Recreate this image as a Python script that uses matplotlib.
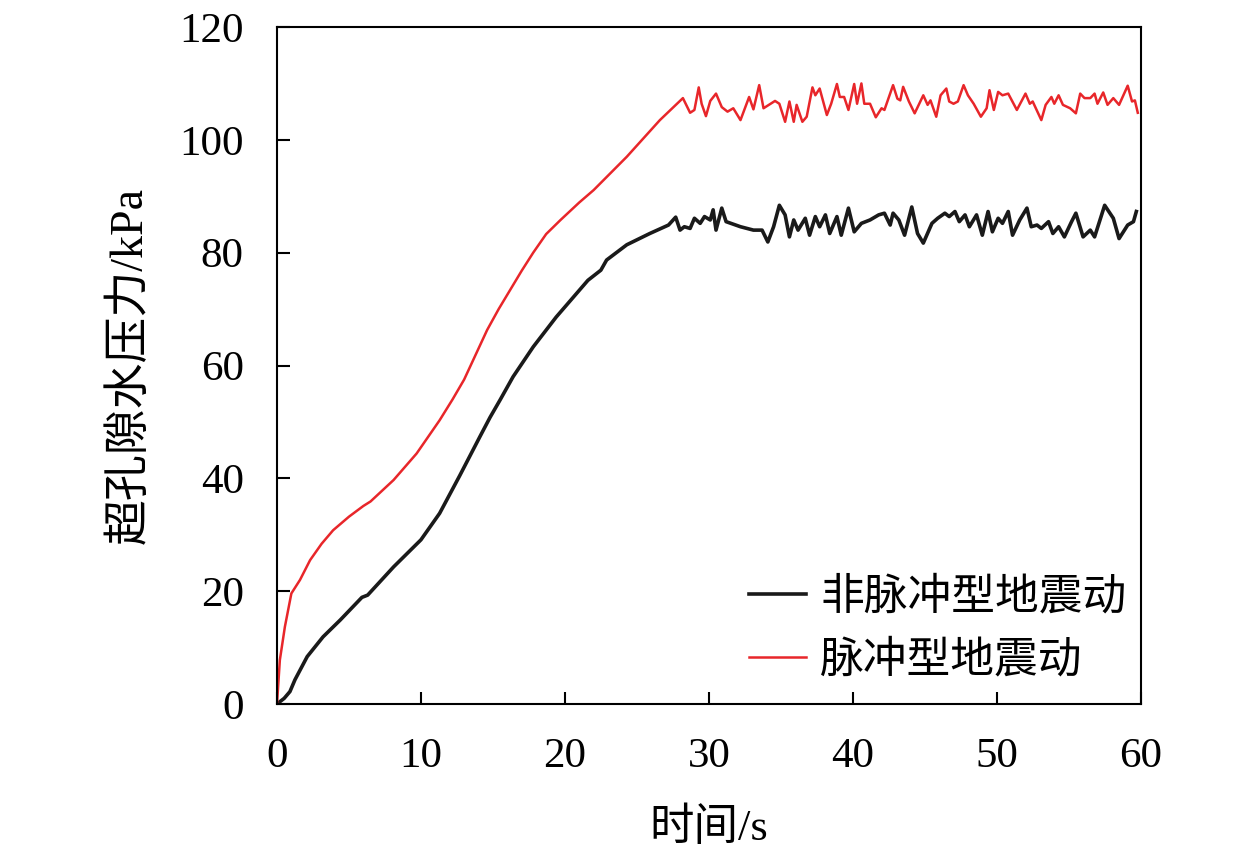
import numpy as np
import matplotlib
matplotlib.use("Agg")
import matplotlib.pyplot as plt

# ---------------- data ----------------
t_black = [0, 0.5, 0.9, 1.25, 2.1, 3.2, 4.4, 5.9, 6.3, 8.1, 10.0, 11.3, 12.7, 14.1,
           14.8, 15.5, 16.4, 17.8, 19.4, 21.6, 22.5, 22.9, 24.3, 25.9, 27.2, 27.7, 28.0,
           28.3, 28.7, 29.0, 29.4, 29.7, 30.1, 30.3, 30.5, 30.9, 31.2, 32.2, 33.1,
           33.7, 34.1, 34.5, 34.9, 35.3, 35.6, 35.9, 36.2, 36.7, 37.0, 37.4, 37.7,
           38.1, 38.4, 38.9, 39.2, 39.7, 40.1, 40.6, 41.2, 41.8, 42.2, 42.6, 42.8,
           43.2, 43.6, 44.1, 44.5, 44.9, 45.5, 45.9, 46.4, 46.7, 47.1, 47.4, 47.8,
           48.1, 48.6, 49.0, 49.4, 49.7, 50.1, 50.4, 50.8, 51.1, 51.6, 52.1, 52.4,
           52.8, 53.1, 53.6, 53.9, 54.3, 54.7, 55.2, 55.5, 56.0, 56.5, 56.8, 57.5,
           58.1, 58.5, 59.1, 59.5, 59.7]
p_black = [0, 1.0, 2.2, 4.3, 8.4, 11.9, 14.9, 18.9, 19.3, 24.3, 29.1, 33.8, 40.5, 47.4,
           50.8, 53.9, 58.0, 63.3, 68.6, 75.1, 76.9, 78.7, 81.4, 83.4, 84.9, 86.3, 84.0,
           84.6, 84.3, 86.1, 85.2, 86.4, 85.8, 87.6, 84.0, 87.9, 85.5, 84.6, 84.0,
           84.0, 81.9, 84.6, 88.4, 86.7, 82.8, 85.8, 84.0, 86.1, 83.1, 86.4, 84.6,
           86.7, 83.4, 86.4, 83.1, 87.9, 83.7, 85.2, 85.8, 86.7, 87.0, 84.9, 87.0,
           85.8, 83.1, 88.1, 83.4, 81.7, 85.2, 86.1, 87.0, 86.4, 87.3, 85.5, 86.7,
           84.6, 86.7, 83.1, 87.3, 83.7, 86.1, 85.2, 87.3, 83.1, 85.8, 87.9, 84.6,
           84.9, 84.3, 85.5, 83.4, 84.6, 82.8, 85.5, 87.0, 82.8, 84.0, 82.8, 88.4,
           86.1, 82.5, 84.9, 85.5, 87.3]

t_red = [0, 0.2, 0.55, 1.0, 1.6, 2.3, 3.1, 3.9, 5.0, 6.0, 6.5, 8.1, 9.7, 11.3, 12.2, 13.0,
         14.6, 15.4, 16.2, 17.0, 17.8, 18.7, 19.7, 21.0, 22.0, 24.3, 26.6, 28.2, 28.7, 29.0, 29.3, 29.5,
         29.8, 30.1, 30.5, 30.9, 31.3, 31.7, 32.2, 32.8, 33.1, 33.5, 33.8, 34.6,
         34.9, 35.3, 35.6, 35.9, 36.1, 36.5, 36.8, 37.2, 37.4, 37.7, 38.2, 38.5,
         38.9, 39.1, 39.4, 39.7, 40.1, 40.3, 40.6, 40.8, 41.2, 41.6, 42.0, 42.2,
         42.8, 43.1, 43.3, 43.5, 43.9, 44.3, 44.9, 45.2, 45.4, 45.8, 46.1, 46.5,
         46.7, 47.0, 47.3, 47.7, 48.0, 48.4, 48.9, 49.3, 49.5, 49.8, 50.1, 50.4,
         50.8, 51.4, 52.0, 52.3, 52.5, 53.1, 53.4, 53.8, 54.0, 54.3, 54.6, 55.1,
         55.5, 55.8, 56.1, 56.5, 56.8, 57.0, 57.4, 57.7, 58.1, 58.5, 59.1, 59.4,
         59.6, 59.8]
p_red = [0, 7.8, 13.7, 19.6, 22.0, 25.5, 28.4, 30.8, 33.2, 35.1, 35.9, 39.7, 44.4, 50.3, 54.0, 57.5,
         66.3, 70.0, 73.4, 76.8, 80.0, 83.3, 85.8, 88.9, 91.1, 97.0, 103.5, 107.4, 104.8, 105.3, 109.3, 106.4,
         104.2, 106.9, 108.2, 105.8, 105.0, 105.6, 103.5, 107.6, 105.4, 109.7, 105.6, 106.9,
         106.4, 103.2, 106.8, 103.2, 106.2, 103.2, 104.1, 109.3, 107.9, 109.1, 104.4, 106.4,
         109.9, 107.6, 107.6, 105.3, 109.9, 106.4, 110.0, 106.4, 106.4, 104.0, 105.6, 105.3,
         109.7, 107.3, 107.0, 109.4, 106.8, 104.7, 107.9, 106.2, 107.0, 104.1, 107.9, 109.1,
         106.8, 106.4, 106.8, 109.7, 107.9, 106.4, 104.1, 105.6, 108.8, 105.3, 108.5, 107.9,
         108.2, 105.3, 108.2, 106.4, 106.8, 103.5, 106.2, 107.6, 106.4, 107.9, 106.2, 105.6,
         104.7, 108.2, 107.4, 107.4, 108.2, 106.4, 108.4, 106.2, 107.4, 106.2, 109.6, 106.8,
         107.0, 104.8]

labels = ["非脉冲型地震动", "脉冲型地震动"]
x_ticks = [0, 10, 20, 30, 40, 50, 60]
y_ticks = [0, 20, 40, 60, 80, 100, 120]

# ---------------- plot ----------------
plt.rcParams['font.family'] = ['Liberation Serif', 'Noto Sans CJK SC']
plt.rcParams['font.size'] = 31

fig, ax = plt.subplots(figsize=(12.59, 8.58), dpi=100)
fig.subplots_adjust(left=0.220, right=0.906, top=0.9685, bottom=0.1795)

ax.plot(t_black, p_black, color='#1a1a1a', linewidth=2.6, label=labels[0],
        solid_joinstyle='round')
ax.plot(t_red, p_red, color='#e8262a', linewidth=1.8, label=labels[1],
        solid_joinstyle='round')

ax.set_xlim(0, 60)
ax.set_ylim(0, 120)
ax.set_xticks(x_ticks)
ax.set_yticks(y_ticks)

ax.tick_params(direction='in', length=9, width=1.5, labelsize=31, pad=24)
for s in ax.spines.values():
    s.set_linewidth(1.5)

ax.set_xlabel("时间/s", fontsize=32, labelpad=23)
ax.set_ylabel("超孔隙水压力/kPa", fontsize=33, labelpad=20)

ax.legend(loc='lower right', bbox_to_anchor=(1.014, -0.005), frameon=False,
          fontsize=31.5, handlelength=1.3, handletextpad=0.32, labelspacing=0.5,
          borderaxespad=0.2)

fig.savefig("out.png", dpi=100)
